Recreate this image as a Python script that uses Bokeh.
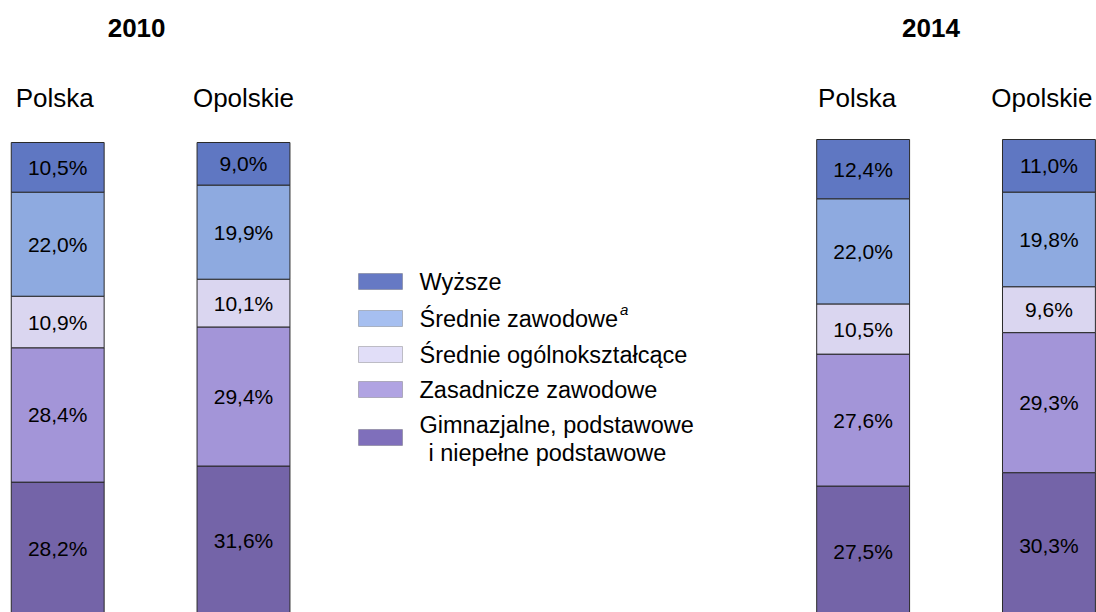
from bokeh.plotting import figure
from bokeh.models import ColumnDataSource, Range1d, Label, BoxAnnotation
from bokeh.core.properties import value
from bokeh.embed import file_html
from bokeh.resources import INLINE

# ---------------- data ----------------
levels = ["Wyższe", "Średnie zawodowe", "Średnie ogólnokształcące",
          "Zasadnicze zawodowe", "Gimnazjalne, podstawowe i niepełne podstawowe"]
years = ["2010", "2014"]
regions = ["Polska", "Opolskie"]
polska_2010 = [10.5, 22.0, 10.9, 28.4, 28.2]
opolskie_2010 = [9.0, 19.9, 10.1, 29.4, 31.6]
polska_2014 = [12.4, 22.0, 10.5, 27.6, 27.5]
opolskie_2014 = [11.0, 19.8, 9.6, 29.3, 30.3]

colors = ["#5f77c2", "#8eaae0", "#dad6f0", "#a395d8", "#7464a8"]
legend_colors = ["#6679c4", "#a6bff0", "#e1def8", "#b0a3e2", "#7f6fbb"]

FONT = "Liberation Sans"
W, H = 1096, 612
XS = 185.8            # px per bar slot
X0 = -57.2 / XS       # left edge of frame in slot units
YS10, Y10_TOP = 4.73, 142
YS14, Y14_TOP = 4.78, 139
BAR_W = 0.5
group_start = {"2010": 0.0, "2014": 4.335}

y10 = Range1d(100 - (H - Y10_TOP) / YS10, 100 + Y10_TOP / YS10)
y14 = Range1d(100 - (H - Y14_TOP) / YS14, 100 + Y14_TOP / YS14)

p = figure(width=W, height=H, output_backend="svg", toolbar_location=None,
           x_range=Range1d(X0, X0 + W / XS), y_range=y10,
           min_border=0, outline_line_color=None, background_fill_color="white")
p.extra_y_ranges = {"y14": y14}
p.axis.visible = False
p.grid.visible = False


def px_x(px):
    return X0 + px / XS


def px_y(py):
    return y10.end - py / YS10


series = {("2010", "Polska"): polska_2010, ("2010", "Opolskie"): opolskie_2010,
          ("2014", "Polska"): polska_2014, ("2014", "Opolskie"): opolskie_2014}

for yr in years:
    xs, tops, bots, fills, mids, labels = [], [], [], [], [], []
    for ri, reg in enumerate(regions):
        vals = series[(yr, reg)]
        x = group_start[yr] + ri
        cum = 0.0
        # stack from bottom: last level at bottom
        for li in range(len(levels) - 1, -1, -1):
            v = vals[li]
            xs.append(x)
            bots.append(cum)
            tops.append(cum + v)
            mids.append(cum + v / 2)
            fills.append(colors[li])
            labels.append(f"{v:.1f}".replace(".", ",") + "%")
            cum += v
    src = ColumnDataSource(dict(x=xs, top=tops, bottom=bots, fill=fills, mid=mids, label=labels))
    rng = "default" if yr == "2010" else "y14"
    p.vbar(x="x", top="top", bottom="bottom", width=BAR_W, fill_color="fill",
           line_color="#2a2a2a", line_width=1, source=src, y_range_name=rng)
    p.text(x="x", y="mid", text="label", source=src, y_range_name=rng,
           text_align="center", text_baseline="middle", text_font=value(FONT),
           text_font_size="21px", text_color="black")

    # year title
    gx = group_start[yr] + 0.5
    tx_off = {"2010": -14, "2014": -25}[yr]
    p.add_layout(Label(x=gx, x_offset=tx_off, y=px_y(27), text=yr, text_align="center",
                       text_baseline="middle", text_font=FONT, text_font_size="26px",
                       text_font_style="bold", text_color="black"))
    offs = {"2010": [-3, 0], "2014": [-6, -7]}[yr]
    for ri, reg in enumerate(regions):
        p.add_layout(Label(x=group_start[yr] + ri, x_offset=offs[ri], y=px_y(97), text=reg,
                           text_align="center", text_baseline="middle", text_font=FONT,
                           text_font_size="26px", text_color="black"))

# ---------------- legend ----------------
rows_y = [281, 318, 354, 389, 437]
legend_text = ["Wyższe", "Średnie zawodowe", "Średnie ogólnokształcące",
               "Zasadnicze zawodowe"]
LFS = 23.5
for i, yc in enumerate(rows_y):
    p.add_layout(BoxAnnotation(left=px_x(358), right=px_x(402), top=px_y(yc - 8), bottom=px_y(yc + 8),
                               fill_color=legend_colors[i], fill_alpha=1.0,
                               line_color="#4a4a4a", line_width=1, level="annotation"))
for i, t in enumerate(legend_text):
    p.add_layout(Label(x=px_x(419), y=px_y(rows_y[i]), text=t, text_align="left",
                       text_baseline="middle", text_font=FONT, text_font_size=f"{LFS}px",
                       text_color="black"))
p.add_layout(Label(x=px_x(419), y=px_y(rows_y[1]), x_offset=8.45 * LFS + 2, y_offset=9, text="a",
                   text_align="left", text_baseline="middle", text_font=FONT,
                   text_font_size="15px", text_font_style="italic", text_color="black"))
p.add_layout(Label(x=px_x(419), y=px_y(424), text="Gimnazjalne, podstawowe", text_align="left",
                   text_baseline="middle", text_font=FONT, text_font_size=f"{LFS}px", text_color="black"))
p.add_layout(Label(x=px_x(428), y=px_y(452), text="i niepełne podstawowe", text_align="left",
                   text_baseline="middle", text_font=FONT, text_font_size=f"{LFS}px", text_color="black"))

open("out.html", "w").write(file_html(p, INLINE))
